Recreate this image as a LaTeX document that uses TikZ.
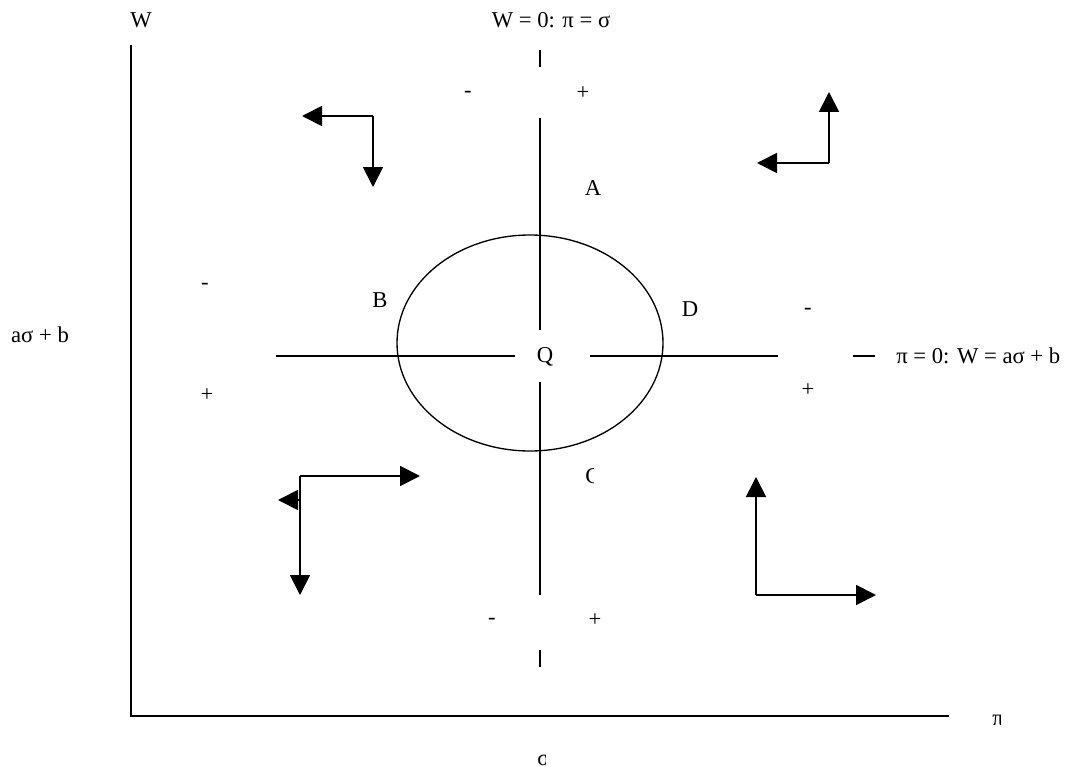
\documentclass[tikz,border=0pt]{standalone}
\usepackage{fontspec}
\setmainfont{Liberation Serif}
\usetikzlibrary{arrows.meta,shapes.geometric}

\begin{document}
\begin{tikzpicture}[x=0.75pt,y=-0.75pt,
  ax/.style={line width=1.4pt},
  arr/.style={-{Triangle[length=15pt,width=15pt]}, line width=1.4pt},
  lbl/.style={font=\fontsize{17}{20}\selectfont, inner sep=0pt}
]
\useasboundingbox (0,0) rectangle (1071,767);

% axes
\coordinate (origin) at (131,716);
\coordinate (ytop) at (131,45);
\coordinate (xend) at (949,716);
\draw[ax] (ytop) -- (origin) -- (xend);
\node[lbl] (wlab) at (141,20) {W};
\node[lbl] (ablab) at (40,335) {aσ + b};
\begin{scope}
  \clip (985,700) rectangle (1000,740);
  \node[lbl, anchor=west] (pilab) at (992,720) {π};
\end{scope}
\begin{scope}
  \clip (530,745) rectangle (545,767);
  \node[lbl, anchor=west] (siglab) at (537,760) {σ};
\end{scope}

% W = 0 line (vertical)
\node[lbl] (wzero) at (551,20) {W = 0: π = σ};
\draw[ax] (540,50) -- (540,67);
\draw[ax] (540,118) -- (540,330);
\draw[ax] (540,382) -- (540,595);
\draw[ax] (540,650) -- (540,667);
\node[lbl] at (468,94) {-};
\node[lbl] at (583,93) {+};
\node[lbl] at (492,621) {-};
\node[lbl] at (595,620) {+};

% pi = 0 line (horizontal)
\draw[ax] (276,356) -- (515,356);
\draw[ax] (590,356) -- (778,356);
\draw[ax] (853,356) -- (875,356);
\node[lbl, anchor=west] (pizero) at (896,356) {π = 0: W = aσ + b};
\node[lbl] at (205,286) {-};
\node[lbl] at (207,395) {+};
\node[lbl] at (808,311) {-};
\node[lbl] at (808,390) {+};

% cycle round Q
\node[draw, ellipse, line width=1pt, minimum width=199.5pt,
  minimum height=162pt, inner sep=0pt] (orbit) at (530,343) {};
\node[lbl] (Q) at (545,357) {Q};
\node[lbl] (A) at (593,188) {A};
\node[lbl] (B) at (380,300) {B};
\node[lbl] (D) at (690,309) {D};
\begin{scope}
  \clip (580,460) rectangle (593,492);
  \node[lbl, anchor=west] (C) at (585,476) {C};
\end{scope}

% direction arrows
\coordinate (nwc) at (373,116);
\coordinate (nwl) at (302,116);
\coordinate (nwd) at (373,187);
\draw[arr] (nwc) -- (nwl);
\draw[arr] (nwc) -- (nwd);

\coordinate (nec) at (829,163);
\coordinate (neu) at (829,92);
\coordinate (nel) at (757,163);
\draw[arr] (nec) -- (neu);
\draw[arr] (nec) -- (nel);

\coordinate (swc) at (300,476);
\coordinate (swr) at (420,476);
\coordinate (swd) at (300,595);
\coordinate (swm) at (299,500);
\coordinate (swl) at (278,500);
\draw[arr] (swc) -- (swr);
\draw[arr] (swc) -- (swd);
\draw[arr] (swm) -- (swl);

\coordinate (sec) at (756,595);
\coordinate (seu) at (756,477);
\coordinate (ser) at (876,595);
\draw[arr] (sec) -- (seu);
\draw[arr] (sec) -- (ser);
\end{tikzpicture}
\end{document}
